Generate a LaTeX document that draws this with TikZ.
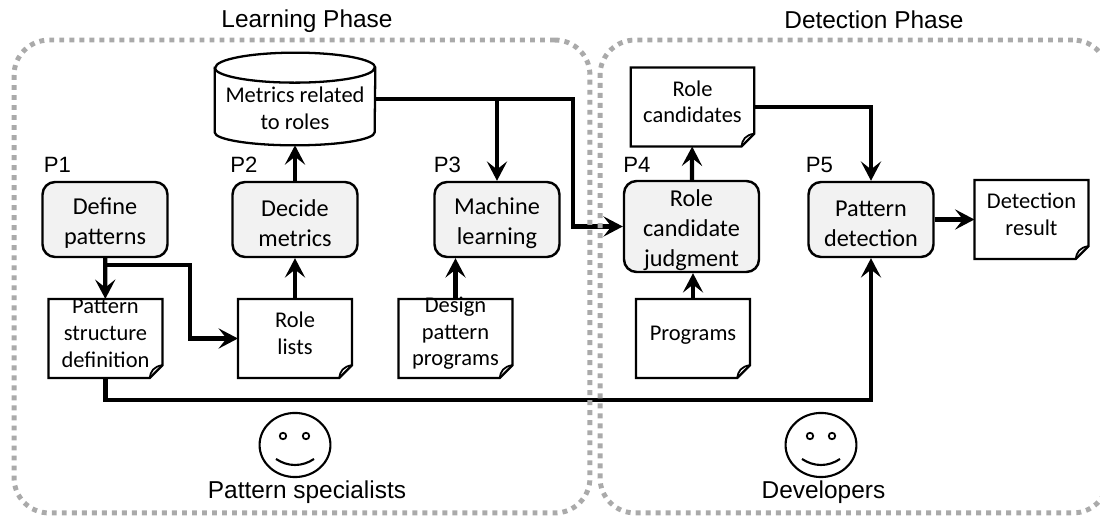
\documentclass[tikz,border=0pt]{standalone}
\usepackage{fontspec}
\setmainfont{Liberation Sans}
\newfontfamily\boxfont{Carlito}
\usetikzlibrary{arrows.meta}
\definecolor{procgray}{RGB}{242,242,242}
\definecolor{dotgray}{RGB}{170,170,170}
\tikzset{
  procnode/.style={rectangle, rounded corners=5mm*0.5, draw, line width=1.4pt, fill=procgray, align=center,
    minimum width=2.5cm, minimum height=1.5cm, inner sep=0pt, font=\boxfont\fontsize{13.8}{17}\selectfont},
  docnode/.style={rectangle, align=center, minimum width=2.27cm, minimum height=1.57cm, inner sep=0pt,
    font=\boxfont\fontsize{12.8}{15.3}\selectfont},
  phasenode/.style={rectangle, rounded corners=0.7cm, draw=dotgray, line width=2.8pt,
    dash pattern=on 2.8pt off 2.9pt, inner sep=0pt},
  labelnode/.style={font=\fontsize{13.9}{16}\selectfont, inner sep=0pt},
  pnode/.style={font=\fontsize{12.6}{14}\selectfont, inner sep=0pt},
  flow/.style={-{Stealth[length=11pt,width=11.5pt,inset=4.5pt]}, line width=2.4pt}
}
% page corner of a document box
\newcommand{\docshape}[1]{
  \draw[line width=1.3pt, fill=white] (#1.north west) -- (#1.north east) -- ([yshift=0.26cm]#1.south east)
    -- ([xshift=-0.26cm]#1.south east) -- (#1.south west) -- cycle;
  \draw[line width=1pt] ([yshift=0.26cm]#1.south east) .. controls ([xshift=-0.18cm,yshift=0.23cm]#1.south east)
    and ([xshift=-0.24cm,yshift=0.14cm]#1.south east) .. ([xshift=-0.26cm]#1.south east);
}
\newcommand{\procstrut}{\rule{0pt}{13.4pt}}
\begin{document}
\begin{tikzpicture}[x=0.02cm,y=-0.02cm]
  \useasboundingbox (0,0) rectangle (1100,516);

  \begin{scope}
    \node [docnode] (structure) at (105.5,338.5) {};
    \node [docnode] (rolelists) at (295,338.5) {};
    \node [docnode] (design) at (455.5,338.5) {};
    \node [docnode, minimum width=2.46cm] (candidates) at (692.5,107) {};
    \node [docnode] (programs) at (693,338.5) {};
    \node [docnode] (result) at (1031.5,219.5) {};
    \docshape{structure}
    \docshape{rolelists}
    \docshape{design}
    \docshape{candidates}
    \docshape{programs}
    \docshape{result}
    \node [yshift=3pt] (structuretext) at (structure) [docnode] {Pattern\\structure\\definition};
    \node [yshift=3pt] (rolelisttext) at (rolelists) [docnode] {Role\\lists};
    \node [yshift=3pt] (designtext) at (design) [docnode] {Design\\pattern\\programs};
    \node [yshift=3pt] (candidatetext) at (candidates) [docnode, minimum width=2.46cm] {Role\\candidates};
    \node [yshift=1.7pt] (programtext) at (programs) [docnode] {Programs};
    \node [yshift=3.2pt] (resulttext) at (result) [docnode] {Detection\\result};
  \end{scope}

  % drum
  \node [rectangle, minimum width=3.2cm, minimum height=1.84cm, inner sep=0pt] (metrics) at (295,99) {};
  \draw [line width=1.3pt, fill=white] ([yshift=-0.3cm]metrics.north west) -- ([yshift=0.26cm]metrics.south west)
    arc [start angle=180, end angle=360, x radius=1.6cm, y radius=0.26cm]
    -- ([yshift=-0.3cm]metrics.north east)
    arc [start angle=0, end angle=180, x radius=1.6cm, y radius=0.3cm] -- cycle;
  \draw [line width=1.3pt] ([yshift=-0.3cm]metrics.north west)
    arc [start angle=180, end angle=360, x radius=1.6cm, y radius=0.3cm];
  \node [font=\boxfont\fontsize{12.8}{15.3}\selectfont, align=center, inner sep=0pt] (metricstext) at (295,108) {Metrics related\\to roles};

  \begin{scope}[every node/.style={procnode}]
    \node (define) at (105,219.5) {\procstrut Define\\patterns};
    \node (decide) at (295,219.5) {\procstrut Decide\\metrics};
    \node (machine) at (497,219.5) {\procstrut Machine\\learning};
    \node [minimum width=2.7cm, minimum height=1.82cm] (judgment) at (691.5,226.5) {\procstrut Role\\candidate\\judgment};
    \node (detect) at (871,219.5) {\procstrut Pattern\\detection};
  \end{scope}

  \node [pnode] (p1) at (57.5,165) {P1};
  \node [pnode] (p2) at (244,165) {P2};
  \node [pnode] (p3) at (447.5,165) {P3};
  \node [pnode] (p4) at (637,165) {P4};
  \node [pnode] (p5) at (819.5,165) {P5};

  \coordinate (branch) at (105,265);
  \coordinate (bend) at (190,338.5);
  \coordinate (turn) at (573,99);
  \coordinate (bus) at (871,400);

  \begin{scope}[flow]
    \draw (define) to (structure);
    \draw (branch) -| (bend) -- (rolelists);
    \draw (rolelists) to (decide);
    \draw (design.north) to (design.north |- machine.south);
    \draw (decide) to (metrics.south);
    \draw (metrics.east) -- (turn) |- (judgment.west);
    \draw (metrics.east -| machine.north) to (machine.north);
    \draw (judgment) to (candidates);
    \draw (programs.north) to (programs.north |- judgment.south);
    \draw (candidates.east) -| (detect.north);
    \draw (structure.south) |- (bus) -- (detect.south);
    \draw (detect) to (result);
  \end{scope}

  \node [phasenode, minimum width=11.52cm, minimum height=9.46cm] (learning) at (302,276.5) {};
  \node [phasenode, minimum width=10.16cm, minimum height=9.46cm] (detection) at (854,276.5) {};

  \node [labelnode] (learningtitle) at (307,21) {Learning Phase};
  \node [labelnode] (detectiontitle) at (874,20) {Detection Phase};
  \node [labelnode] (specialists) at (307,492) {Pattern specialists};
  \node [labelnode] (developers) at (823.5,492) {Developers};

  % faces
  \begin{scope}[line width=1.2pt]
    \node [circle, draw, minimum size=1.35cm, xscale=1.05, yscale=0.95, inner sep=0pt] (face1) at (295,445) {};
    \node [circle, draw, line width=1pt, minimum size=0.13cm, inner sep=0pt] (eye1a) at (283,436) {};
    \node [circle, draw, line width=1pt, minimum size=0.13cm, inner sep=0pt] (eye1b) at (306,436) {};
    \draw (276,459) .. controls (288,467) and (302,467) .. (314,459);
    \node [circle, draw, minimum size=1.35cm, xscale=1.05, yscale=0.95, inner sep=0pt] (face2) at (821,445) {};
    \node [circle, draw, line width=1pt, minimum size=0.13cm, inner sep=0pt] (eye2a) at (810,436) {};
    \node [circle, draw, line width=1pt, minimum size=0.13cm, inner sep=0pt] (eye2b) at (832,436) {};
    \draw (802,459) .. controls (814,467) and (828,467) .. (840,459);
  \end{scope}
\end{tikzpicture}
\end{document}
